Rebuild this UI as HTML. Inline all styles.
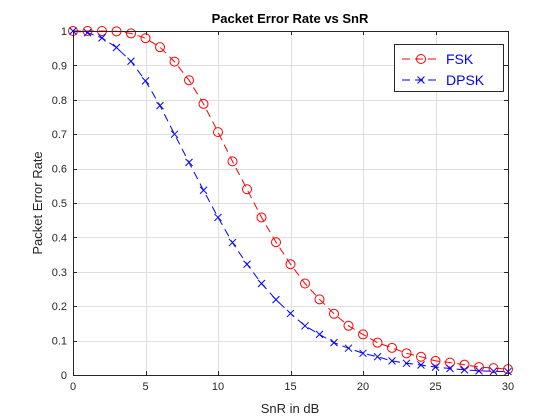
<!DOCTYPE html>
<html><head><meta charset="utf-8"><style>
body{margin:0;background:#fff;}
svg{display:block;font-family:"Liberation Sans",Arial,sans-serif;}
</style></head><body>
<svg id="chart" width="560" height="420">
<rect x="0" y="0" width="560" height="420" fill="#fff"/>
<rect x="73" y="31" width="435" height="344" fill="#fff"/>
<g id="grid"></g><g id="series"></g><g id="axes"></g>
<text x="290" y="23" text-anchor="middle" font-size="13" font-weight="bold" fill="#000">Packet Error Rate vs SnR</text>
<text x="290" y="413" text-anchor="middle" font-size="13" fill="#262626">SnR in dB</text>
<text x="42" y="203" text-anchor="middle" font-size="13" fill="#262626" transform="rotate(-90 42 203)">Packet Error Rate</text>
<g>
<rect x="394.5" y="44.5" width="109" height="47" fill="#fff" stroke="#262626" stroke-width="1"/>
<g>
<line x1="402" y1="59" x2="440" y2="59" stroke="#ff0000" stroke-dasharray="8,5"/>
<circle cx="421" cy="59" r="4.5" fill="none" stroke="#ff0000"/>
<text x="446" y="64" font-size="14" fill="#0000ff">FSK</text>
</g>
<g>
<line x1="402" y1="80" x2="440" y2="80" stroke="#0000ff" stroke-dasharray="8,5"/>
<path d="M417.5 76.5 L424.5 83.5 M424.5 76.5 L417.5 83.5" stroke="#0000ff"/>
<text x="446" y="85" font-size="14" fill="#0000ff">DPSK</text>
</g>
</g>
</svg>
<script>
const snr=[0,1,2,3,4,5,6,7,8,9,10,11,12,13,14,15,16,17,18,19,20,21,22,23,24,25,26,27,28,29,30];
const fsk=[1,1,1,0.999,0.993,0.979,0.953,0.911,0.857,0.788,0.706,0.621,0.54,0.458,0.386,0.322,0.266,0.22,0.178,0.143,0.118,0.094,0.079,0.063,0.053,0.041,0.036,0.03,0.023,0.02,0.017];
const dpsk=[1,0.995,0.98,0.952,0.912,0.855,0.783,0.70,0.618,0.537,0.458,0.385,0.322,0.266,0.219,0.179,0.143,0.118,0.094,0.078,0.063,0.053,0.041,0.034,0.029,0.023,0.019,0.015,0.012,0.011,0.01];
const xTicks=[0,5,10,15,20,25,30];
const yTicks=[0,0.1,0.2,0.3,0.4,0.5,0.6,0.7,0.8,0.9,1];
const yTickLabels=["0","0.1","0.2","0.3","0.4","0.5","0.6","0.7","0.8","0.9","1"];
const NS="http://www.w3.org/2000/svg";
const X0=73,X1=508,Y0=375,Y1=31;
function xs(v){return X0+(v-0)/(30-0)*(X1-X0);}
function ys(v){return Y0-(v-0)/(1-0)*(Y0-Y1);}
function mk(tag,attrs,parent){const e=document.createElementNS(NS,tag);for(const k in attrs)e.setAttribute(k,attrs[k]);parent.appendChild(e);return e;}
const grid=document.getElementById('grid'),axes=document.getElementById('axes'),ser=document.getElementById('series');
xTicks.forEach(t=>{const x=Math.round(xs(t))+0.5;
 const g=mk('line',{x1:x,y1:Y1,x2:x,y2:Y0,stroke:'#dfdfdf','stroke-width':1},grid);
 
 
 mk('line',{x1:x,y1:Y0,x2:x,y2:Y0-4,stroke:'#262626'},axes);
 mk('line',{x1:x,y1:Y1,x2:x,y2:Y1+4,stroke:'#262626'},axes);
 const tx=mk('text',{x:xs(t),y:Y0+15,'text-anchor':'middle','font-size':11,fill:'#262626'},axes);
 tx.textContent=t;
 
 
});
yTicks.forEach((t,i)=>{const y=Math.round(ys(t))+0.5;
 const g=mk('line',{x1:X0,y1:y,x2:X1,y2:y,stroke:'#dfdfdf','stroke-width':1},grid);
 
 
 mk('line',{x1:X0,y1:y,x2:X0+4,y2:y,stroke:'#262626'},axes);
 mk('line',{x1:X1,y1:y,x2:X1-4,y2:y,stroke:'#262626'},axes);
 const tx=mk('text',{x:X0-6,y:ys(t)+4,'text-anchor':'end','font-size':11,fill:'#262626'},axes);
 tx.textContent=yTickLabels[i];
 
 
});
const box=mk('rect',{x:X0+0.5,y:Y1+0.5,width:X1-X0,height:Y0-Y1,fill:'none',stroke:'#262626','stroke-width':1},axes);


function series(vals,color,name,marker){
 const pts=snr.map((s,i)=>xs(s).toFixed(1)+','+ys(vals[i]).toFixed(1)).join(' ');
 const pl=mk('polyline',{points:pts,fill:'none',stroke:color,'stroke-width':1,'stroke-dasharray':'8,5'},ser);
 
 
 snr.forEach((s,i)=>{const x=xs(s),y=ys(vals[i]);let m;
  if(marker==='o'){m=mk('circle',{cx:x,cy:y,r:4.5,fill:'none',stroke:color},ser);}
  else{m=mk('path',{d:`M${x-3.5} ${y-3.5}L${x+3.5} ${y+3.5}M${x+3.5} ${y-3.5}L${x-3.5} ${y+3.5}`,stroke:color},ser);}
  
  
 });
}
series(fsk,'#ff0000','fsk','o');
series(dpsk,'#0000ff','dpsk','x');
</script>
</body></html>
